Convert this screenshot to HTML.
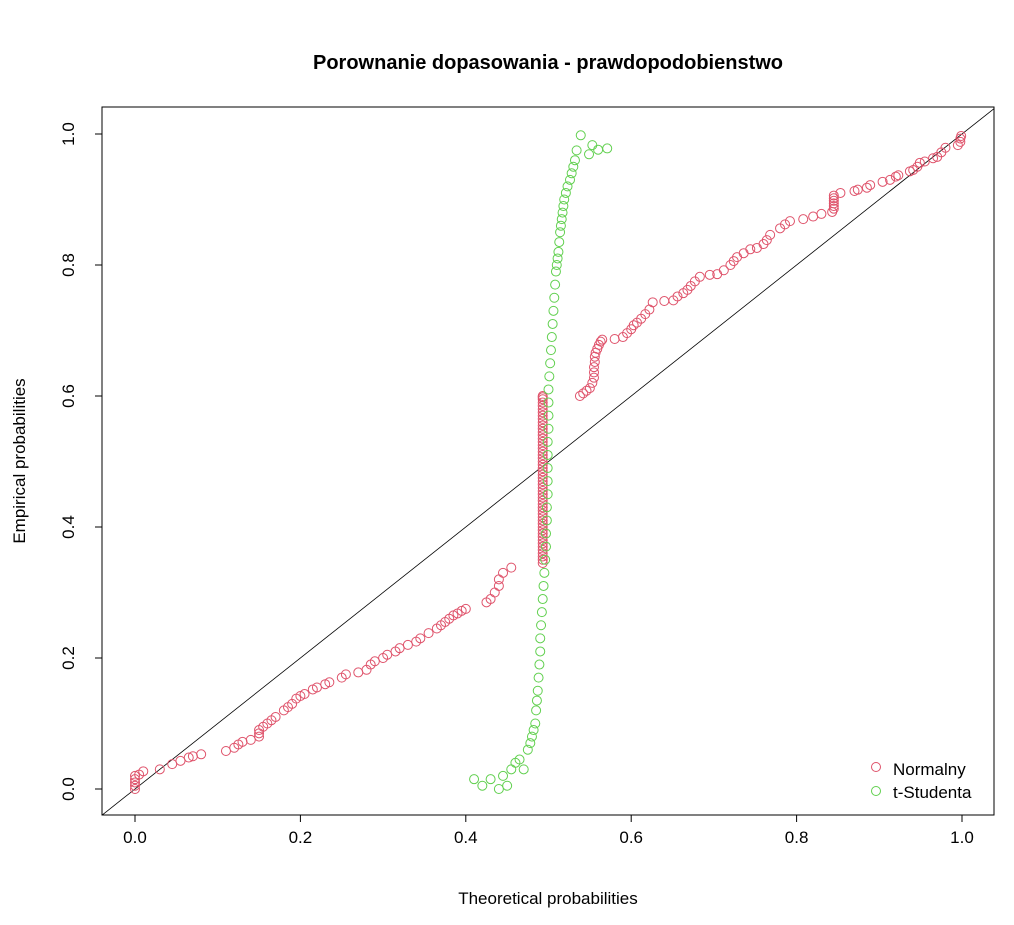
<!DOCTYPE html>
<html><head><meta charset="utf-8"><style>
body{margin:0;background:#fff;}
svg{display:block;font-family:"Liberation Sans",Arial,sans-serif;}
</style></head><body>
<svg id="chart" width="1014" height="925" viewBox="0 0 1014 925">
<rect x="0" y="0" width="1014" height="925" fill="#fff"/>
<text x="548" y="69" text-anchor="middle" font-size="20" font-weight="bold">Porownanie dopasowania - prawdopodobienstwo</text>
<text x="548" y="904" text-anchor="middle" font-size="17">Theoretical probabilities</text>
<text transform="translate(25,461) rotate(-90)" text-anchor="middle" font-size="17">Empirical probabilities</text>
<rect x="102" y="107" width="892" height="708" fill="none" stroke="#000" stroke-width="1"/>
<g id="axes"></g>
<g id="marks"></g>
<g>
<circle cx="876" cy="767" r="4.5" fill="none" stroke="#DF536B"/>
<text x="893" y="775" font-size="17">Normalny</text>
<circle cx="876" cy="791" r="4.5" fill="none" stroke="#61D04F"/>
<text x="893" y="798" font-size="17">t-Studenta</text>
</g>
</svg>
<script>
const xTicks=[0,0.2,0.4,0.6,0.8,1.0];
const xTickLabels=["0.0","0.2","0.4","0.6","0.8","1.0"];
const yTicks=[0,0.2,0.4,0.6,0.8,1.0];
const yTickLabels=["0.0","0.2","0.4","0.6","0.8","1.0"];
const normX=[0,0,0,0,0,0.005,0.01,0.03,0.045,0.055,0.065,0.07,0.08,0.11,0.12,0.125,0.13,0.14,0.15,0.15,0.15,0.155,0.16,0.165,0.17,0.18,0.185,0.19,0.195,0.2,0.205,0.215,0.22,0.23,0.235,0.25,0.255,0.27,0.28,0.285,0.29,0.3,0.305,0.315,0.32,0.33,0.34,0.345,0.355,0.365,0.37,0.375,0.38,0.385,0.39,0.395,0.4,0.425,0.43,0.435,0.44,0.44,0.445,0.455,
0.493,0.493,0.493,0.493,0.493,0.493,0.493,0.493,0.493,0.493,0.493,0.493,0.493,0.493,0.493,0.493,0.493,0.493,0.493,0.493,0.493,0.493,0.493,0.493,0.493,0.493,0.493,0.493,0.493,0.493,0.493,0.493,0.493,0.493,0.493,0.493,0.493,0.493,0.493,0.493,0.493,0.493,0.493,0.493,0.493,0.493,0.493,0.493,0.493,0.493,0.493,0.493,0.493,
0.538,0.542,0.546,0.55,0.553,0.555,0.555,0.555,0.556,0.556,0.557,0.559,0.561,0.563,0.565,0.58,0.59,0.595,0.6,0.603,0.607,0.612,0.617,0.622,0.626,0.64,0.651,0.656,0.663,0.668,0.672,0.677,0.683,0.695,0.704,0.712,0.72,0.724,0.728,0.736,0.744,0.752,0.76,0.764,0.768,0.78,0.786,0.792,0.808,0.82,0.83,0.843,0.845,0.845,0.845,0.845,0.845,0.845,0.853,0.87,0.874,0.885,0.889,0.904,0.913,0.92,0.923,0.937,0.941,0.946,0.949,0.955,0.965,0.97,0.975,0.98,0.995,0.998,0.998,0.999];
const normY=[0,0.005,0.01,0.015,0.02,0.022,0.027,0.03,0.038,0.043,0.048,0.05,0.053,0.058,0.063,0.068,0.072,0.075,0.08,0.085,0.09,0.095,0.1,0.105,0.11,0.12,0.125,0.13,0.138,0.142,0.145,0.152,0.155,0.16,0.163,0.17,0.175,0.178,0.182,0.19,0.195,0.2,0.205,0.21,0.215,0.22,0.225,0.23,0.238,0.245,0.25,0.255,0.26,0.265,0.268,0.272,0.275,0.285,0.29,0.3,0.31,0.32,0.33,0.338,
0.345,0.35,0.355,0.36,0.365,0.37,0.375,0.38,0.385,0.39,0.395,0.4,0.405,0.41,0.415,0.42,0.425,0.43,0.435,0.44,0.445,0.45,0.455,0.46,0.465,0.47,0.475,0.48,0.485,0.49,0.495,0.5,0.505,0.51,0.515,0.52,0.525,0.53,0.535,0.54,0.545,0.55,0.555,0.56,0.565,0.57,0.575,0.58,0.585,0.59,0.595,0.598,0.6,
0.6,0.604,0.608,0.612,0.62,0.628,0.636,0.644,0.652,0.66,0.666,0.672,0.678,0.683,0.686,0.687,0.69,0.696,0.702,0.708,0.712,0.718,0.725,0.732,0.743,0.745,0.746,0.752,0.757,0.762,0.768,0.775,0.782,0.785,0.786,0.792,0.8,0.806,0.812,0.818,0.824,0.826,0.832,0.838,0.846,0.856,0.862,0.867,0.87,0.874,0.878,0.881,0.886,0.89,0.894,0.898,0.902,0.906,0.91,0.913,0.915,0.918,0.922,0.927,0.93,0.935,0.937,0.943,0.945,0.95,0.956,0.958,0.963,0.965,0.972,0.979,0.983,0.988,0.993,0.997];
const tX=[0.41,0.42,0.43,0.44,0.445,0.45,0.455,0.46,0.465,0.47,0.475,0.478,0.48,0.482,0.484,0.485,0.486,0.487,0.488,0.489,0.49,0.49,0.491,0.492,0.493,0.494,0.495,0.496,0.497,0.497,0.498,0.498,0.499,0.499,0.499,0.499,0.499,0.5,0.5,0.5,0.5,0.501,0.502,0.503,0.504,0.505,0.506,0.507,0.508,0.509,0.51,0.511,0.512,0.513,0.514,0.515,0.516,0.517,0.518,0.519,0.521,0.523,0.526,0.528,0.53,0.532,0.534,0.539,0.549,0.553,0.56,0.571];
const tY=[0.015,0.005,0.015,0,0.02,0.005,0.03,0.04,0.045,0.03,0.06,0.07,0.08,0.09,0.1,0.12,0.135,0.15,0.17,0.19,0.21,0.23,0.25,0.27,0.29,0.31,0.33,0.35,0.37,0.39,0.41,0.43,0.45,0.47,0.49,0.51,0.53,0.55,0.57,0.59,0.61,0.63,0.65,0.67,0.69,0.71,0.73,0.75,0.77,0.79,0.8,0.81,0.82,0.835,0.85,0.86,0.87,0.88,0.89,0.9,0.91,0.92,0.93,0.94,0.95,0.96,0.975,0.998,0.969,0.983,0.976,0.978];

const NS="http://www.w3.org/2000/svg";
const xs=v=>135+v*827;
const ys=v=>789-v*655;
const axes=document.getElementById('axes');
const marks=document.getElementById('marks');
function mk(tag,attrs,parent){const e=document.createElementNS(NS,tag);for(const k in attrs)e.setAttribute(k,attrs[k]);parent.appendChild(e);return e;}
let l=mk('line',{x1:xs(xTicks[0]),x2:xs(xTicks[xTicks.length-1]),y1:815,y2:815,stroke:'#000'},axes);


xTicks.forEach((v,i)=>{
 const t=mk('line',{x1:xs(v),x2:xs(v),y1:815,y2:822,stroke:'#000'},axes);
 
 
 const tx=mk('text',{x:xs(v),y:843,'text-anchor':'middle','font-size':17},axes);
 tx.textContent=xTickLabels[i];
 
 
});
l=mk('line',{x1:102,x2:102,y1:ys(yTicks[0]),y2:ys(yTicks[yTicks.length-1]),stroke:'#000'},axes);


yTicks.forEach((v,i)=>{
 const t=mk('line',{x1:95,x2:102,y1:ys(v),y2:ys(v),stroke:'#000'},axes);
 
 
 const tx=mk('text',{transform:`translate(74,${ys(v)}) rotate(-90)`,'text-anchor':'middle','font-size':17},axes);
 tx.textContent=yTickLabels[i];
 
 
});
const ref=mk('line',{x1:102,y1:ys((102-135)/827),x2:994,y2:ys((994-135)/827),stroke:'#000','stroke-width':0.8},marks);


normX.forEach((v,i)=>{
 const c=mk('circle',{cx:xs(v),cy:ys(normY[i]),r:4.5,fill:'none',stroke:'#DF536B'},marks);
 
 
});
tX.forEach((v,i)=>{
 const c=mk('circle',{cx:xs(v),cy:ys(tY[i]),r:4.5,fill:'none',stroke:'#61D04F'},marks);
 
 
});
</script>
</body></html>
